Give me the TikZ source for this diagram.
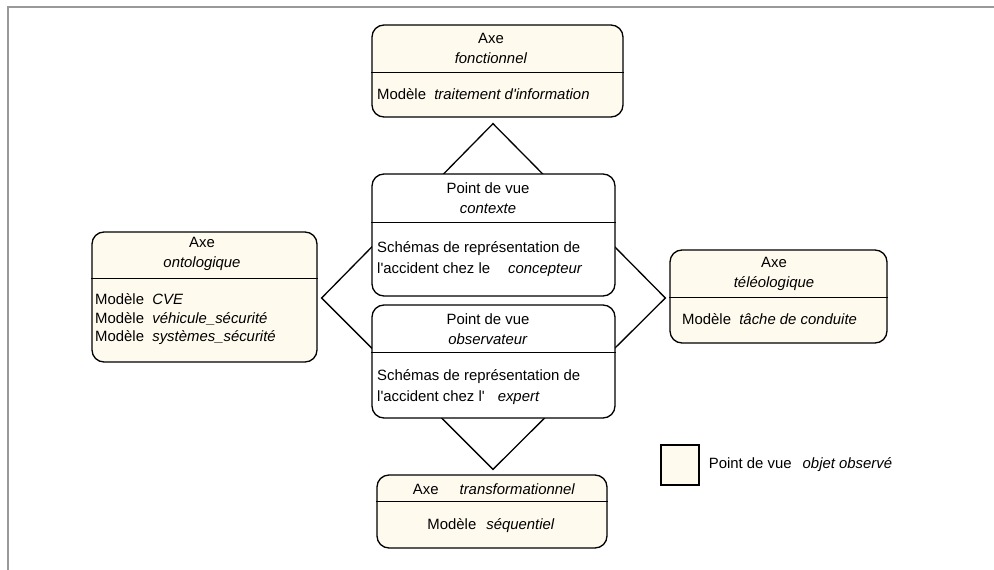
\documentclass[tikz,border=0pt]{standalone}
\usepackage{fontspec}
\setmainfont{Liberation Sans}
\usepackage{xcolor}
\definecolor{creme}{HTML}{FFFAEE}
\definecolor{cadre}{HTML}{999999}
\usetikzlibrary{calc,positioning,backgrounds}
\tikzset{
  box/.style={draw=black,line width=1.3pt,rounded corners=12pt,inner sep=0pt},
  abox/.style={box,fill=creme},
  vbox/.style={box,fill=white},
  lab/.style={font=\fontsize{14.9}{20}\selectfont,inner sep=0pt,align=center},
  llab/.style={lab,anchor=west,align=left},
  sep/.style={draw=black,line width=1.3pt},
  diag/.style={draw=black,line width=1.3pt,line join=miter},
}

\begin{document}
\begin{tikzpicture}[x=1pt,y=-1pt]
\useasboundingbox (0,0) rectangle (994,570);
\draw[cadre,line width=2pt] (994,7) -- (8,7) -- (8,570);

% axes
\node[abox,minimum width=251,minimum height=92] (fonc) at (497.5,71) {};
\node[abox,minimum width=225,minimum height=130] (onto) at (204.5,297) {};
\node[abox,minimum width=217,minimum height=93] (telo) at (778.5,296.5) {};
\node[abox,minimum width=230,minimum height=73] (trans) at (492,511.5) {};
% points de vue
\node[vbox,minimum width=243,minimum height=122] (ctx) at (493.5,235) {};
\node[vbox,minimum width=243,minimum height=113] (obs) at (493.5,361.5) {};

\foreach \n/\d in {fonc/48,ctx/49,obs/48,onto/47,telo/48,trans/27}
  \draw[sep] ($(\n.north west)+(0,\d)$) -- ($(\n.north east)+(0,\d)$);

\node[lab] (fonc-h) at (491,48) {Axe\\\textit{fonctionnel}};
\node[llab] (fonc-b) at (377,94) {Modèle\ \ \textit{traitement d\textquotesingle information}};

\node[lab] (ctx-h) at (488,198.5) {Point de vue\\\textit{contexte}};
\node[llab,font=\fontsize{14.9}{21}\selectfont] (ctx-b) at (377,259.5)
  {Schémas de représentation de\\l\textquotesingle accident chez le\hspace{18pt}\textit{concepteur}};

\node[lab] (obs-h) at (488,329) {Point de vue\\\textit{observateur}};
\node[llab,font=\fontsize{14.9}{21}\selectfont] (obs-b) at (377,387.5)
  {Schémas de représentation de\\l\textquotesingle accident chez l\textquotesingle\hspace{13pt}\textit{expert}};

\node[lab] (onto-h) at (202,254) {Axe\\\textit{ontologique}};
\node[llab,font=\fontsize{14.9}{18.5}\selectfont] (onto-b) at (95,319.5)
  {Modèle\ \ \textit{CVE}\\Modèle\ \ \textit{véhicule\_sécurité}\\Modèle\ \ \textit{systèmes\_sécurité}};

\node[lab] (telo-h) at (774,273.5) {Axe\\\textit{téléologique}};
\node[llab] (telo-b) at (682,319) {Modèle\ \ \textit{tâche de conduite}};

\node[lab] (trans-h) at (494,489) {Axe\hspace{21pt}\textit{transformationnel}};
\node[lab] (trans-b) at (491,526) {Modèle\hspace{10pt}\textit{séquentiel}};

% legende
\node[abox,rounded corners=0pt,minimum width=38,minimum height=40] (leg) at (680,465) {};
\node[llab,right=9pt of leg] (leg-t) {Point de vue\hspace{11pt}\textit{objet observé}};

% losange derriere les points de vue
\coordinate (dn) at ($(fonc.south)+(-4.5,6)$);
\coordinate (dw) at ($(onto.east)+(4,1)$);
\coordinate (de) at ($(telo.west)+(-4,1.5)$);
\coordinate (ds) at ($(trans.north)+(1,-5)$);
\begin{scope}[on background layer]
\draw[diag] (dn) -- (dw) -- (ds) -- (de) -- cycle;
\end{scope}
\end{tikzpicture}
\end{document}
